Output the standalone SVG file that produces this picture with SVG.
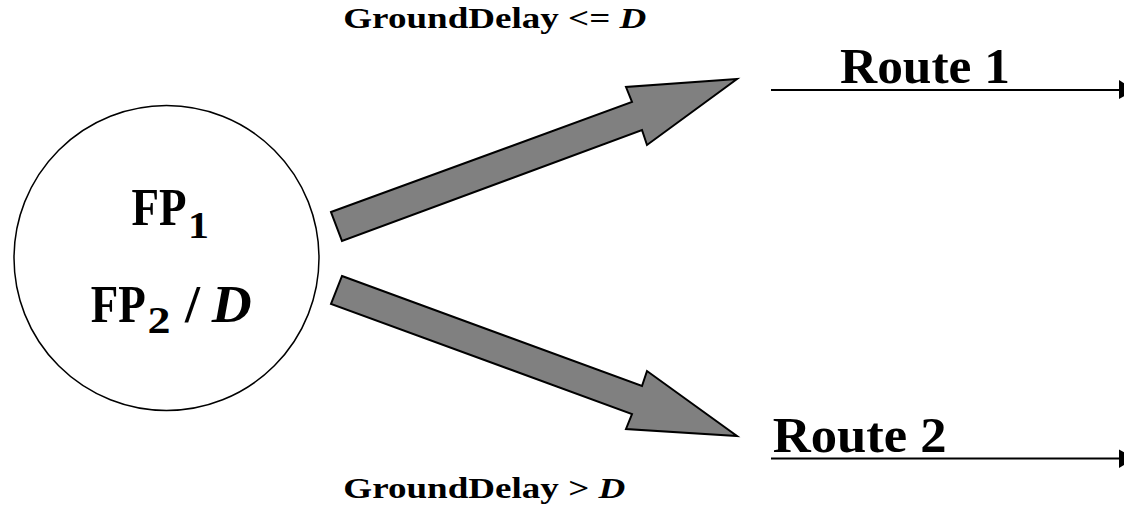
<svg xmlns="http://www.w3.org/2000/svg" width="1124" height="517" viewBox="0 0 1124 517">
<style>
text{font-family:'Liberation Serif','Times New Roman',Times,serif;font-weight:700;fill:#000}
.i{font-style:italic}
.arr{fill:#808080;stroke:#000;stroke-width:2;stroke-linejoin:miter}
.ln{stroke:#000;stroke-width:2;fill:none}
.hd{fill:#000}
</style>
<rect width="1124" height="517" fill="#fff"/>
<g id="node-fp">
<circle cx="166.5" cy="258" r="152.5" fill="#fff" stroke="#000" stroke-width="1.5"/>
<text font-size="46" transform="translate(0,225) scale(1,1.15)"><tspan x="131.5" y="0" textLength="55" lengthAdjust="spacingAndGlyphs">FP</tspan><tspan x="188" y="11.3" font-size="33" textLength="21" lengthAdjust="spacingAndGlyphs">1</tspan></text>
<text font-size="46" transform="translate(0,321.7) scale(1,1.15)"><tspan x="90.7" y="0" textLength="55" lengthAdjust="spacingAndGlyphs">FP</tspan><tspan x="147.5" y="9.8" font-size="33" textLength="23" lengthAdjust="spacingAndGlyphs">2</tspan><tspan x="185" y="0" textLength="15" lengthAdjust="spacingAndGlyphs">/</tspan><tspan class="i" x="211.7" y="0" textLength="40" lengthAdjust="spacingAndGlyphs">D</tspan></text>
</g>
<g id="node-route1">
<text x="840" y="83.3" font-size="50" textLength="170" lengthAdjust="spacingAndGlyphs">Route 1</text>
</g>
<g id="node-route2">
<text x="772.7" y="451.7" font-size="50" textLength="174" lengthAdjust="spacingAndGlyphs">Route 2</text>
</g>
<g id="label-upper">
<text x="343.3" y="28.3" font-size="30" textLength="303" lengthAdjust="spacingAndGlyphs">GroundDelay &lt;= <tspan class="i">D</tspan></text>
</g>
<g id="label-lower">
<text x="343.3" y="498.3" font-size="30" textLength="282" lengthAdjust="spacingAndGlyphs">GroundDelay &gt; <tspan class="i">D</tspan></text>
</g>
<g id="connectors">
<polygon class="arr" points="331,212 632,102 626,87 737,79 647,145 642,130 342,241"/>
<polygon class="arr" points="342,276 642,386 647,371 737,436 626,429 632,414 331,304"/>
<line class="ln" x1="771" y1="90" x2="1120" y2="90"/>
<polygon class="hd" points="1119,80 1135,90 1119,99"/>
<line class="ln" x1="771" y1="458.5" x2="1120" y2="458.5"/>
<polygon class="hd" points="1119,449.5 1135,458.5 1119,468"/>
</g>
</svg>
